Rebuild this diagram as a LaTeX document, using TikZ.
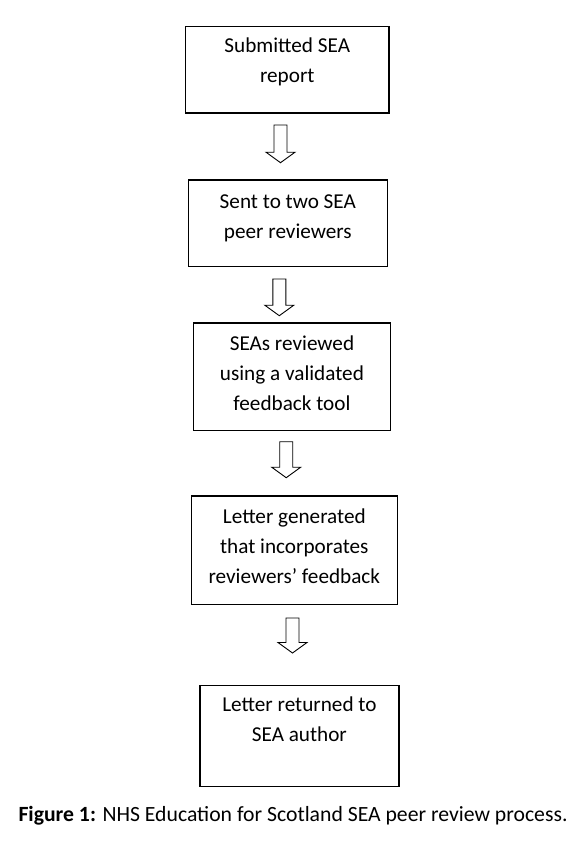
\documentclass[tikz,border=0pt]{standalone}
\usepackage{fontspec}
\setmainfont{Carlito}
\begin{document}
\begin{tikzpicture}[x=1pt,y=-1pt,
  box/.style={draw=black, line width=1.2pt, rectangle, inner sep=0pt, anchor=north west},
  lbl/.style={align=center, inner sep=0pt, anchor=base, font=\fontsize{21.2}{30}\selectfont},
  arrowline/.style={draw=black, line width=0.9pt, line join=miter, fill=white},
  pics/blockarrow/.style={code={
    \draw[arrowline] (-6.5,0) -- (6.5,0) -- (6.5,{#1-10.5}) -- (14.5,{#1-10.5}) -- (0,#1)
      -- (-14.5,{#1-10.5}) -- (-6.5,{#1-10.5}) -- cycle;
  }}
]
\useasboundingbox (0,0) rectangle (580,844);

% boxes
\node[box, minimum width=203.3pt, minimum height=86.6pt] (b1) at (185,25.7) {};
\node[box, minimum width=199pt, minimum height=86.4pt] (b2) at (187.7,179.3) {};
\node[box, minimum width=197.3pt, minimum height=107.7pt] (b3) at (192.7,322.3) {};
\node[box, minimum width=206pt, minimum height=108.7pt] (b4) at (190.7,495.3) {};
\node[box, minimum width=199pt, minimum height=101pt] (b5) at (199.3,685) {};

% labels (anchor = baseline of last line)
\node[lbl] (t1) at (b1.center |- 0,82.7) {Submitted SEA\\report};
\node[lbl] (t2) at (b2.center |- 0,238.3) {Sent to two SEA\\peer reviewers};
\node[lbl] (t3) at (b3.center |- 0,410) {SEAs reviewed\\using a validated\\feedback tool};
\node[lbl] (t4) at (b4.center |- 0,583) {Letter generated\\that incorporates\\reviewers’ feedback};
\node[lbl] (t5) at (b5.center |- 0,741.7) {Letter returned to\\SEA author};

% block arrows
\pic (a1) at (280.5,125) {blockarrow=37.7};
\pic (a2) at (279.3,279) {blockarrow=36.7};
\pic (a3) at (286.2,441.7) {blockarrow=36};
\pic (a4) at (292.5,618) {blockarrow=35};

% caption
\node[anchor=base west, inner sep=0pt, font=\fontsize{21.7}{26}\selectfont] (cap) at (18.3,821.7)
  {\textbf{Figure 1:} NHS Education for Scotland SEA peer review process.};
\end{tikzpicture}
\end{document}
